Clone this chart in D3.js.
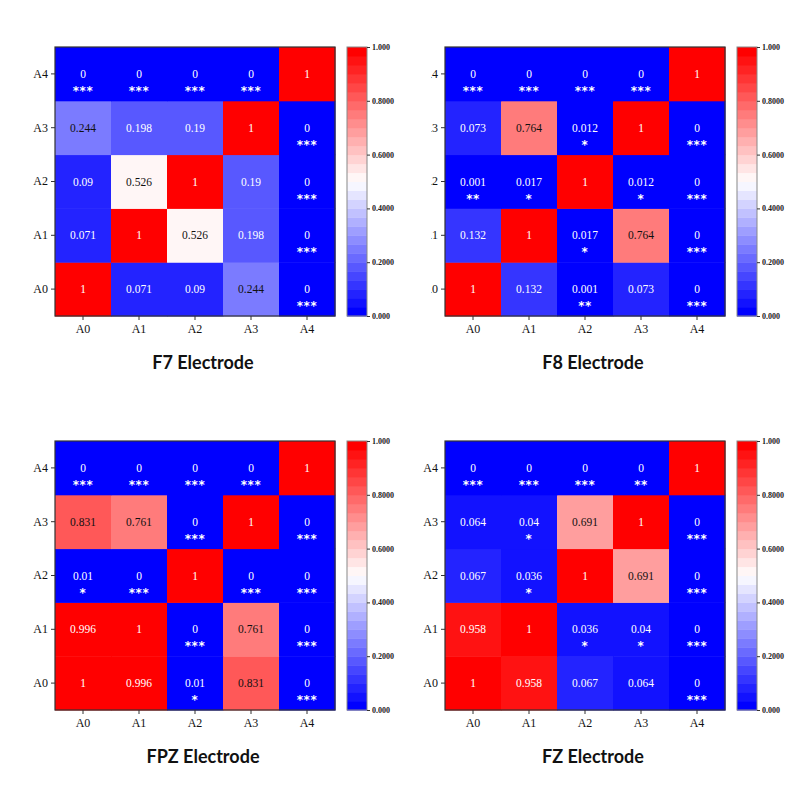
<!DOCTYPE html>
<html>
<head>
<meta charset="utf-8">
<script src="https://cdn.jsdelivr.net/npm/d3@7"></script>
<style>
  body { margin: 0; background: #fff; }
  svg { display: block; }
</style>
</head>
<body>
<svg id="chart" width="800" height="800"></svg>
<script>
const labels = ['A0', 'A1', 'A2', 'A3', 'A4'];
const titles = ['F7 Electrode', 'F8 Electrode', 'FPZ Electrode', 'FZ Electrode'];

// rows = y label (A0..A4), columns = x label (A0..A4)
const f7Values = [
  [1, 0.071, 0.09, 0.244, 0],
  [0.071, 1, 0.526, 0.198, 0],
  [0.09, 0.526, 1, 0.19, 0],
  [0.244, 0.198, 0.19, 1, 0],
  [0, 0, 0, 0, 1],
];
const f7Stars = [
  ['', '', '', '', '***'],
  ['', '', '', '', '***'],
  ['', '', '', '', '***'],
  ['', '', '', '', '***'],
  ['***', '***', '***', '***', ''],
];
const f8Values = [
  [1, 0.132, 0.001, 0.073, 0],
  [0.132, 1, 0.017, 0.764, 0],
  [0.001, 0.017, 1, 0.012, 0],
  [0.073, 0.764, 0.012, 1, 0],
  [0, 0, 0, 0, 1],
];
const f8Stars = [
  ['', '', '**', '', '***'],
  ['', '', '*', '', '***'],
  ['**', '*', '', '*', '***'],
  ['', '', '*', '', '***'],
  ['***', '***', '***', '***', ''],
];
const fpzValues = [
  [1, 0.996, 0.01, 0.831, 0],
  [0.996, 1, 0, 0.761, 0],
  [0.01, 0, 1, 0, 0],
  [0.831, 0.761, 0, 1, 0],
  [0, 0, 0, 0, 1],
];
const fpzStars = [
  ['', '', '*', '', '***'],
  ['', '', '***', '', '***'],
  ['*', '***', '', '***', '***'],
  ['', '', '***', '', '***'],
  ['***', '***', '***', '***', ''],
];
const fzValues = [
  [1, 0.958, 0.067, 0.064, 0],
  [0.958, 1, 0.036, 0.04, 0],
  [0.067, 0.036, 1, 0.691, 0],
  [0.064, 0.04, 0.691, 1, 0],
  [0, 0, 0, 0, 1],
];
const fzStars = [
  ['', '', '', '', '***'],
  ['', '', '*', '*', '***'],
  ['', '*', '', '', '***'],
  ['', '*', '', '', '***'],
  ['***', '***', '***', '**', ''],
];

const cbTicks = [0, 0.2, 0.4, 0.6, 0.8, 1];
const cbTickLabels = ['0.000', '0.2000', '0.4000', '0.6000', '0.8000', '1.000'];

const allValues = [f7Values, f8Values, fpzValues, fzValues];
const allStars = [f7Stars, f8Stars, fpzStars, fzStars];

const svg = d3.select('#chart');

// bwr colormap, 30 discrete levels
const bwr = d3.piecewise(d3.interpolateRgb, ['#0000ff', '#ffffff', '#ff0000']);
const color = d3.scaleQuantize().domain([0, 1]).range(d3.quantize(bwr, 30));

const lum = (c) => {
  const r = d3.rgb(c);
  return 0.299 * r.r + 0.587 * r.g + 0.114 * r.b;
};

const mapW = 280, mapH = 269;
const lefts = [55, 445], tops = [47, 441];

svg.append('defs').append('clipPath').attr('id', 'clipF8')
  .append('rect').attr('x', 431).attr('y', 0).attr('width', 369).attr('height', 400);

allValues.forEach((vals, p) => {
  const left = lefts[p % 2];
  const top = tops[Math.floor(p / 2)];
  const g = svg.append('g');
  if (p === 1) g.attr('clip-path', 'url(#clipF8)');

  const x = d3.scaleBand().domain(labels).range([left, left + mapW]);
  const y = d3.scaleBand().domain(labels).range([top + mapH, top]);

  const cells = [];
  vals.forEach((row, i) => row.forEach((v, j) => {
    cells.push({ r: labels[i], c: labels[j], v: v, s: allStars[p][i][j] });
  }));

  g.selectAll('rect.cell').data(cells).join('rect')
    .attr('class', 'cell')
    .attr('x', (d) => x(d.c))
    .attr('y', (d) => y(d.r))
    .attr('width', x.bandwidth() + 0.5)
    .attr('height', y.bandwidth() + 0.5)
    .attr('fill', (d) => color(d.v));

  g.selectAll('text.val').data(cells).join('text')
    .attr('class', 'val')
    .attr('x', (d) => x(d.c) + x.bandwidth() / 2)
    .attr('y', (d) => y(d.r) + y.bandwidth() / 2)
    .attr('dy', '0.35em')
    .attr('text-anchor', 'middle')
    .style('font-family', '"Liberation Serif", serif')
    .style('font-size', '11.5px')
    .attr('fill', (d) => (lum(color(d.v)) > 128 ? '#111' : '#fff'))
    .text((d) => d.v);

  g.selectAll('text.star').data(cells.filter((d) => d.s)).join('text')
    .attr('class', 'star')
    .attr('x', (d) => x(d.c) + x.bandwidth() / 2)
    .attr('y', (d) => y(d.r) + y.bandwidth() / 2 + 21)
    .attr('text-anchor', 'middle')
    .style('font-family', '"DejaVu Sans", sans-serif')
    .style('font-size', '12px')
    .style('font-weight', 'bold')
    .attr('fill', '#fff')
    .attr('letter-spacing', '0.5px')
    .text((d) => d.s);

  g.append('rect')
    .attr('x', left).attr('y', top)
    .attr('width', mapW).attr('height', mapH)
    .attr('fill', 'none').attr('stroke', '#333').attr('stroke-width', 1.2);

  const xAxis = g.append('g')
    .attr('transform', `translate(0,${top + mapH})`)
    .call(d3.axisBottom(x).tickSize(4).tickPadding(4));
  const yAxis = g.append('g')
    .attr('transform', `translate(${left},0)`)
    .call(d3.axisLeft(y).tickSize(4).tickPadding(3));
  [xAxis, yAxis].forEach((a) => {
    a.select('.domain').remove();
    a.selectAll('line').attr('stroke', '#333');
    a.selectAll('text')
      .style('font-family', '"Liberation Serif", serif')
      .style('font-size', '12px')
      .attr('fill', '#111');
  });

  // colorbar
  const cbX = left + 292, cbW = 20;
  const cy = d3.scaleLinear().domain([0, 1]).range([top + mapH, top]);
  const steps = color.range().map((c, k) => ({ c: c, lo: k / 30, hi: (k + 1) / 30 }));
  g.selectAll('rect.cb').data(steps).join('rect')
    .attr('class', 'cb')
    .attr('x', cbX)
    .attr('y', (d) => cy(d.hi))
    .attr('width', cbW)
    .attr('height', (d) => cy(d.lo) - cy(d.hi) + 0.5)
    .attr('fill', (d) => d.c);
  g.append('rect')
    .attr('x', cbX).attr('y', top)
    .attr('width', cbW).attr('height', mapH)
    .attr('fill', 'none').attr('stroke', '#888').attr('stroke-width', 1);

  const cbAxis = g.append('g')
    .attr('transform', `translate(${cbX + cbW},0)`)
    .call(d3.axisRight(cy).tickValues(cbTicks)
      .tickFormat((d, k) => cbTickLabels[k]).tickSize(3).tickPadding(2));
  cbAxis.select('.domain').remove();
  cbAxis.selectAll('line').attr('stroke', '#333');
  cbAxis.selectAll('text')
    .style('font-family', '"Liberation Serif", serif')
    .style('font-size', '8px')
    .style('font-weight', 'bold')
    .attr('fill', '#222');

  svg.append('text')
    .attr('x', left + mapW / 2 + 8)
    .attr('y', top + mapH + 53)
    .attr('text-anchor', 'middle')
    .style('font-family', 'Lato, sans-serif')
    .style('font-size', '18px')
    .style('font-weight', 'bold')
    .attr('fill', '#111')
    .text(titles[p]);
});
</script>
</body>
</html>
